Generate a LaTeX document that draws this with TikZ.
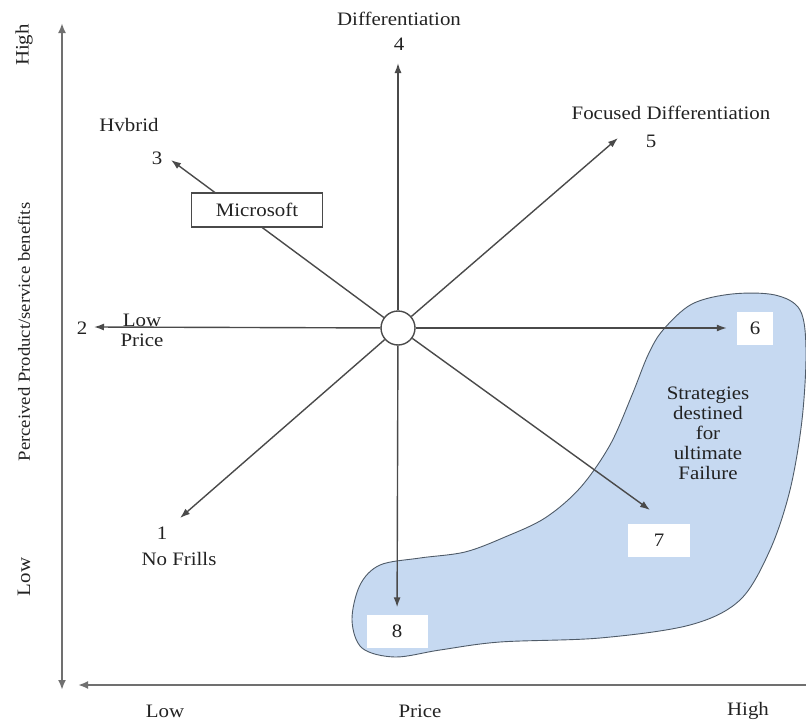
\documentclass[tikz,border=0pt]{standalone}
\usepackage{fontspec}
\setmainfont{Liberation Serif}[FakeStretch=1.1]
\usetikzlibrary{arrows.meta}
\definecolor{linegray}{HTML}{4A4A4A}
\definecolor{axisgray}{HTML}{707070}
\definecolor{blobblue}{HTML}{C6D9F1}
\definecolor{blobline}{HTML}{4F5B68}
\definecolor{textgray}{HTML}{222222}

\begin{document}
\begin{tikzpicture}[x=1pt,y=-1pt,
  font=\fontsize{19}{19}\selectfont, text=textgray,
  ray/.style={draw=linegray,line width=1.4pt,-{Latex[length=10pt,width=7pt]}},
  axis/.style={draw=axisgray,line width=2pt},
  numbox/.style={fill=white,inner sep=0pt,text width=#1,align=center,minimum height=33pt},
  lbl/.style={inner sep=1pt}]
  \useasboundingbox (0,0) rectangle (806,720);
  % region of failing strategies
  \draw[fill=blobblue,draw=blobline,line width=0.9pt] plot[smooth cycle,tension=0.55] coordinates {
    (663,330) (692,304) (732,294) (775,295) (800,310) (806,350) (802,420)
    (790,490) (770,550) (740,600) (690,625) (600,638) (500,642) (440,650)
    (395,657) (362,648) (352,620) (360,585) (380,565) (420,558) (465,552)
    (505,537) (545,518) (580,488) (610,445) (632,395) (648,355)};
  % axes
  \coordinate (vt) at (62,23);
  \coordinate (vb) at (62,690);
  \coordinate (hl) at (78,685);
  \coordinate (hr) at (816,685);
  \draw[axis,{Latex[length=10pt,width=8pt]}-{Latex[length=10pt,width=8pt]}] (vb)--(vt);
  \draw[axis,{Latex[length=10pt,width=8pt]}-{Latex[length=10pt,width=8pt]}] (hl)--(hr);
  % strategy clock
  \node[circle,draw=linegray,line width=1.4pt,fill=white,minimum size=34pt,inner sep=0pt] (hub) at (398,328) {};
  \coordinate (t1) at (180,518);
  \coordinate (t2) at (94,327);
  \coordinate (t3) at (171,160);
  \coordinate (t4) at (398,63);
  \coordinate (t5) at (618,138);
  \coordinate (t7) at (650,510);
  \node[numbox=36pt] (b6) at (755,328) {6};
  \node[numbox=62pt] (b7) at (659,540) {7};
  \node[numbox=61pt] (b8) at (397,631) {8};
  \draw[ray] (hub)--(t1);
  \draw[ray] (hub)--(t2);
  \draw[ray] (hub)--(t3);
  \draw[ray] (hub)--(t4);
  \draw[ray] (hub)--(t5);
  \draw[ray,shorten >=10pt] (hub)--(b6);
  \draw[ray] (hub)--(t7);
  \draw[ray,shorten >=7pt] (hub)--(b8);
  \node[draw=linegray,line width=1.2pt,fill=white,minimum width=131pt,minimum height=34pt,inner sep=0pt] (ms) at (257,210) {Microsoft};
  % labels
  \node[lbl] (n1) at (162,533) {1};
  \node[lbl] (l1) at (179,559) {No Frills};
  \node[lbl] (n2) at (82,328) {2};
  \node[lbl,align=center] (l2) at (142,330) {Low\\[1pt]Price};
  \node[lbl] (n3) at (157,158) {3};
  \node[lbl] (l3) at (129,125) {Hvbrid};
  \node[lbl] (n4) at (399,44) {4};
  \node[lbl] (l4) at (399,19) {Differentiation};
  \node[lbl] (n5) at (651,141) {5};
  \node[lbl] (l5) at (671,113) {Focused Differentiation};
  \node[lbl,align=center,font=\fontsize{19}{20}\selectfont] (fail) at (708,433) {Strategies\\destined\\for\\ultimate\\Failure};
  % axis labels
  \node[lbl,rotate=90] (yhigh) at (24,45) {High};
  \node[lbl,rotate=90,font=\fontsize{17}{17}\selectfont] (ytitle) at (24,332) {Perceived Product/service benefits};
  \node[lbl,rotate=90] (ylow) at (24,577) {Low};
  \node[lbl] (xlow) at (165,711) {Low};
  \node[lbl] (xtitle) at (420,711) {Price};
  \node[lbl] (xhigh) at (748,711) {High};
\end{tikzpicture}
\end{document}
